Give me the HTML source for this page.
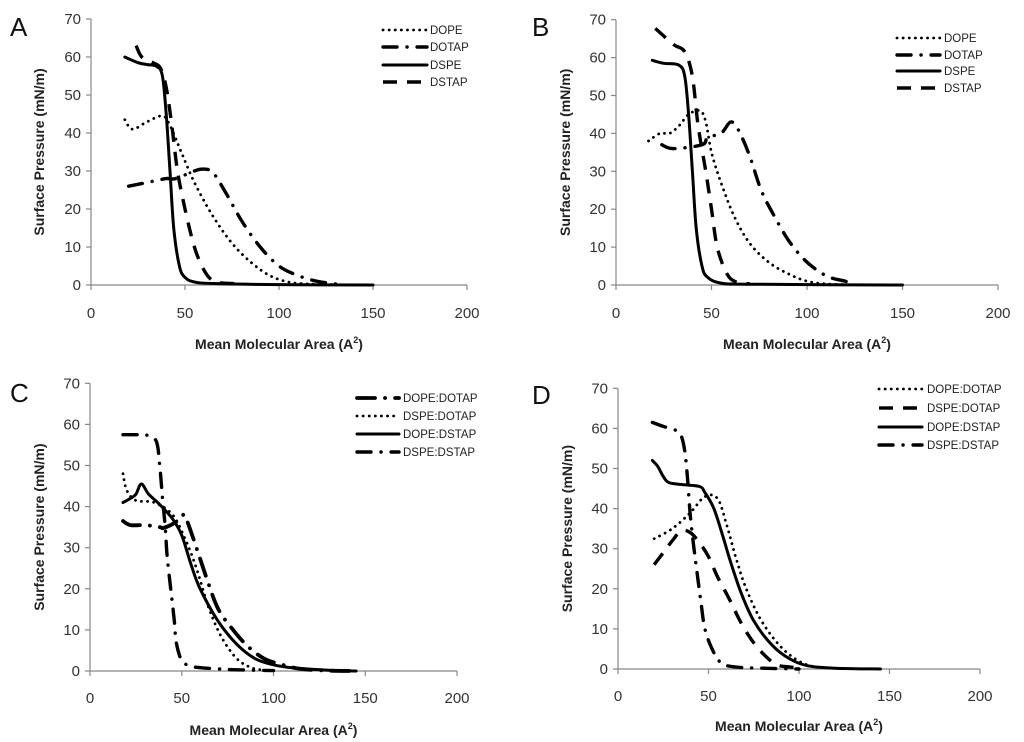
<!DOCTYPE html>
<html><head><meta charset="utf-8"><style>
html,body{margin:0;padding:0;background:#fff;}
svg{display:block;font-family:"Liberation Sans",sans-serif;}
</style></head><body>
<svg id="fig" width="1024" height="742" viewBox="0 0 1024 742" xmlns="http://www.w3.org/2000/svg"></svg>
<script>
// Panel A data
const aDOPE=[[18,43.5],[22,41],[30,43],[38,44.5],[42,42],[48,35],[55,27],[65,18],[75,11],[85,6],[95,2.5],[105,0.8],[115,0.3],[130,0.1]];
const aDOTAP=[[20,26],[30,27],[40,28],[45,28],[55,30],[60,30.5],[65,29.5],[72,24],[80,17],[90,10],[100,5],[110,2.5],[120,1],[130,0.3]];
const aDSPE=[[18,60],[25,58.5],[30,58],[35,57.5],[38,55],[40,45],[42,30],[44,15],[47,5],[50,2],[55,0.8],[65,0.4],[100,0.1],[150,0]];
const aDSTAP=[[24,63],[27,60],[33,58.5],[37,57],[40,52],[43,42],[46,30],[50,20],[55,10],[60,4],[65,1],[70,0.5],[80,0.3]];
// Panel B data
const bDOPE=[[17,38],[23,40],[28,40],[33,42],[38,45],[44,46],[47,43],[50,35],[55,27],[62,18],[70,11],[80,6],[90,3],[100,1],[110,0.3],[120,0.1]];
const bDOTAP=[[24,37],[30,36],[45,37],[48,39],[55,40],[60,43],[64,41],[70,34],[76,25],[82,19],[90,12],[98,7],[105,4],[112,2],[120,1],[125,0.3]];
const bDSPE=[[19,59.3],[25,58.5],[33,58],[36,55],[38,45],[40,30],[42,15],[45,5],[48,2],[55,0.5],[70,0.2],[150,0]];
const bDSTAP=[[20.6,67.7],[30,63.5],[36,61.5],[40,55],[43,42],[47,30],[50,20],[53,10],[58,3],[63,0.8],[70,0.3]];
// Panel C data
const cDOPEDOTAP=[[18,36.5],[22,35.5],[30,35.5],[38,35],[40,34.8],[46,36],[50,37.5],[52,37.5],[58,30],[64,22],[70,15],[78,10],[86,6],[95,3],[105,1.5],[115,0.5],[130,0.1],[145,0]];
const cDSPEDOTAP=[[18,48],[20,44],[25,41.5],[35,41],[45,38],[52,32],[58,25],[65,15],[72,8],[80,3],[88,0.8],[95,0.2]];
const cDOPEDSTAP=[[18,41],[22,42],[25,43],[28,45.5],[32,43],[38,40.5],[45,37],[50,33],[55,26],[60,20],[70,12],[80,6.5],[90,3],[100,1.5],[110,0.8],[130,0.2],[145,0]];
const cDSPEDSTAP=[[18,57.5],[25,57.5],[30,57.5],[36,56],[38,50],[39.5,42],[41,35],[42,28],[44,20],[46,12],[47,7],[50,2.5],[55,1.2],[60,0.8],[70,0.5],[80,0.3],[100,0.1]];
// Panel D data
const dDOPEDOTAP=[[20,32.5],[30,35],[40,39],[48,43],[55,42.5],[60,36],[65,28],[70,21],[78,13],[88,6.5],[98,2.5],[108,0.6],[120,0.2]];
const dDSPEDOTAP=[[20,26],[25,29],[30,32],[35,34.5],[40,34],[45,31.5],[50,28],[55,23],[62,17],[68,11.5],[75,6.5],[82,3],[88,1],[95,0.5],[100,0.3]];
const dDOPEDSTAP=[[19,52],[22,50.5],[25,48],[28,46.5],[35,46],[45,45.5],[48,44],[53,40],[58,33],[62,27],[68,19],[75,12],[85,6],[95,2.5],[105,0.8],[120,0.2],[145,0]];
const dDSPEDSTAP=[[19,61.5],[25,60.5],[32,59.5],[35,58],[37,54],[38.5,47],[40,38],[42,30],[44,23],[46,16],[48,10],[52,5],[57,1.5],[65,0.5],[80,0.2],[100,0]];

const xTicks=[0,50,100,150,200];
const yTicks=[0,10,20,30,40,50,60,70];

const STY={
 dot:{w:2.8,d:"0.1 6",cap:"round"},
 dashdot:{w:3.4,d:"14 10 0.1 10",cap:"round"},
 dash:{w:3.4,d:"14 10",cap:"butt"},
 solid:{w:3,d:"",cap:"round"},
 longdashdot:{w:3.8,d:"18 10 0.1 10",cap:"round"}
};

const NS="http://www.w3.org/2000/svg";
const svg=document.getElementById('fig');
function mk(tag,parent,attrs){const e=document.createElementNS(NS,tag);for(const k in attrs)e.setAttribute(k,attrs[k]);parent.appendChild(e);return e;}
function smooth(pts){
 let d='M'+pts[0][0].toFixed(1)+' '+pts[0][1].toFixed(1);
 for(let i=0;i<pts.length-1;i++){
  const p0=pts[i-1]||pts[i],p1=pts[i],p2=pts[i+1],p3=pts[i+2]||p2;
  const c1=[p1[0]+(p2[0]-p0[0])/6,p1[1]+(p2[1]-p0[1])/6];
  const c2=[p2[0]-(p3[0]-p1[0])/6,p2[1]-(p3[1]-p1[1])/6];
  d+=` C${c1[0].toFixed(1)} ${c1[1].toFixed(1)} ${c2[0].toFixed(1)} ${c2[1].toFixed(1)} ${p2[0].toFixed(1)} ${p2[1].toFixed(1)}`;
 }
 return d;
}

const panels=[
 {id:"a",letter:"A",lx:10,ly:36,x0:91,xs:1.88,y0:285,ys:3.8,xl:344,tl:312,yt:39,leg:{x1:383,x2:427,tx:430,ys:[30,47,65,82]},
  series:[["DOPE",aDOPE,"dot"],["DOTAP",aDOTAP,"dashdot"],["DSPE",aDSPE,"solid"],["DSTAP",aDSTAP,"dash"]]},
 {id:"b",letter:"B",lx:532,ly:36,x0:616,xs:1.91,y0:285,ys:3.79,xl:344,tl:312,yt:565,leg:{x1:897,x2:940,tx:944,ys:[38,55,71,88]},
  series:[["DOPE",bDOPE,"dot"],["DOTAP",bDOTAP,"dashdot"],["DSPE",bDSPE,"solid"],["DSTAP",bDSTAP,"dash"]]},
 {id:"c",letter:"C",lx:10,ly:402,x0:90,xs:1.835,y0:671,ys:4.11,xl:730,tl:697,yt:39,leg:{x1:357,x2:399,tx:403,ys:[398,416,434,452]},
  series:[["DOPE:DOTAP",cDOPEDOTAP,"longdashdot"],["DSPE:DOTAP",cDSPEDOTAP,"dot"],["DOPE:DSTAP",cDOPEDSTAP,"solid"],["DSPE:DSTAP",cDSPEDSTAP,"dashdot"]]},
 {id:"d",letter:"D",lx:532,ly:404,x0:618,xs:1.81,y0:669,ys:4.01,xl:726,tl:695,yt:567,leg:{x1:879,x2:922,tx:927,ys:[389,408,427,445]},
  series:[["DOPE:DOTAP",dDOPEDOTAP,"dot"],["DSPE:DOTAP",dDSPEDOTAP,"dash"],["DOPE:DSTAP",dDOPEDSTAP,"solid"],["DSPE:DSTAP",dDSPEDSTAP,"dashdot"]]}
];

panels.forEach(p=>{
 const X=v=>p.x0+v*p.xs, Y=v=>p.y0-v*p.ys;
 const g=mk('g',svg,{});
 
 
 const L=mk('text',g,{x:p.lx,y:p.ly,'font-size':26,fill:'#111'});L.textContent=p.letter;
 
 
 const ya=mk('line',g,{x1:X(0),x2:X(0),y1:Y(70),y2:Y(0),stroke:'#888','stroke-width':1.2});
 
 
 const xa=mk('line',g,{x1:X(0),x2:X(200),y1:Y(0),y2:Y(0),stroke:'#888','stroke-width':1.2});
 
 
 yTicks.forEach(t=>{
  mk('line',g,{x1:X(0)-5,x2:X(0),y1:Y(t),y2:Y(t),stroke:'#888','stroke-width':1.2});
  const tx=mk('text',g,{x:X(0)-10,y:Y(t)+5,'font-size':15,fill:'#333','text-anchor':'end'});tx.textContent=t;
  
  
 });
 xTicks.forEach(t=>{
  mk('line',g,{x1:X(t),x2:X(t),y1:Y(0),y2:Y(0)+5,stroke:'#888','stroke-width':1.2});
  const tx=mk('text',g,{x:X(t),y:p.tl+6,'font-size':15,fill:'#333','text-anchor':'middle'});tx.textContent=t;
  
  
 });
 const xt=mk('text',g,{x:X(100),y:p.xl+5,'font-size':14,'font-weight':'bold',fill:'#222','text-anchor':'middle'});
 xt.innerHTML='Mean Molecular Area (A<tspan font-size="9" dy="-6">2</tspan><tspan dy="6">)</tspan>';
 
 
 const cy=(Y(0)+Y(70))/2;
 const yt=mk('text',g,{x:0,y:0,'font-size':14,'font-weight':'bold',fill:'#222','text-anchor':'middle',transform:`translate(${p.yt+5},${cy}) rotate(-90)`});
 yt.textContent='Surface Pressure (mN/m)';
 
 
 p.series.forEach((s,i)=>{
  const st=STY[s[2]];
  const d=smooth(s[1].map(pt=>[X(pt[0]),Y(pt[1])]));
  const path=mk('path',g,{d:d,fill:'none',stroke:'#000','stroke-width':st.w,'stroke-dasharray':st.d,'stroke-linecap':st.cap,'stroke-linejoin':'round'});
  
  
  const ly=p.leg.ys[i];
  const ll=mk('line',g,{x1:p.leg.x1,x2:p.leg.x2,y1:ly,y2:ly,stroke:'#000','stroke-width':st.w,'stroke-dasharray':st.d,'stroke-linecap':st.cap});
  
  
  const lt=mk('text',g,{x:p.leg.tx,y:ly+4,'font-size':11.5,fill:'#222'});lt.textContent=s[0];
  
  
 });
});
</script>
</body></html>
